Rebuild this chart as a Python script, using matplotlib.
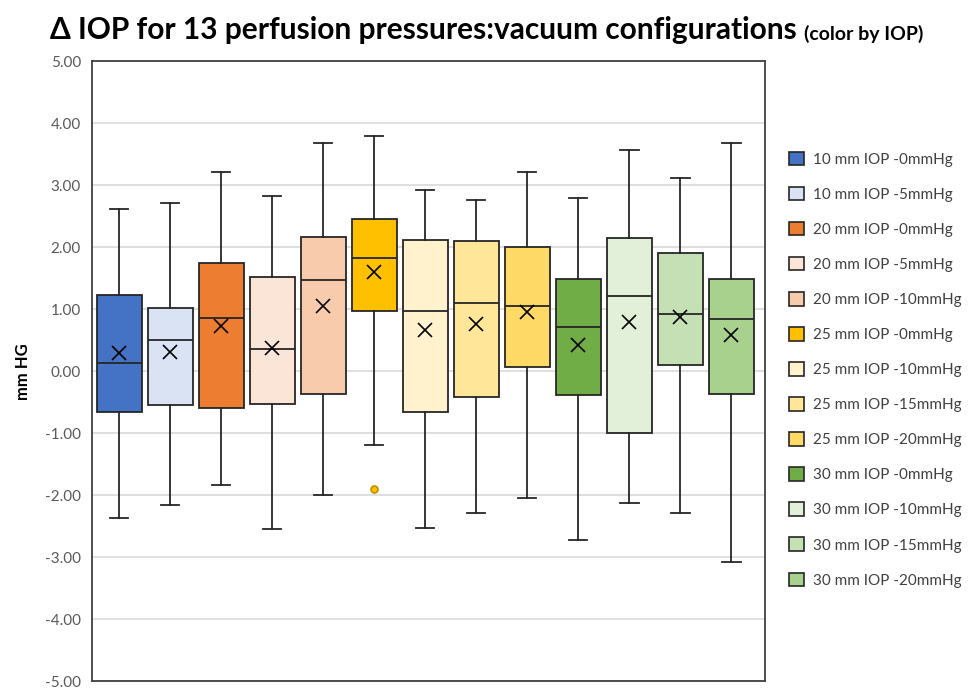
import matplotlib
matplotlib.use("Agg")
import matplotlib.pyplot as plt
from matplotlib.patches import Patch

# box statistics (mm HG)
labels = ["10 mm IOP -0mmHg", "10 mm IOP -5mmHg", "20 mm IOP -0mmHg", "20 mm IOP -5mmHg",
          "20 mm IOP -10mmHg", "25 mm IOP -0mmHg", "25 mm IOP -10mmHg", "25 mm IOP -15mmHg",
          "25 mm IOP -20mmHg", "30 mm IOP -0mmHg", "30 mm IOP -10mmHg", "30 mm IOP -15mmHg",
          "30 mm IOP -20mmHg"]
whis_hi = [2.62, 2.71, 3.22, 2.83, 3.69, 3.80, 2.92, 2.76, 3.21, 2.80, 3.57, 3.12, 3.69]
q3 = [1.23, 1.03, 1.75, 1.52, 2.17, 2.46, 2.12, 2.10, 2.01, 1.49, 2.15, 1.91, 1.49]
med = [0.14, 0.51, 0.86, 0.36, 1.48, 1.83, 0.97, 1.11, 1.06, 0.71, 1.22, 0.92, 0.85]
q1 = [-0.65, -0.55, -0.59, -0.52, -0.37, 0.97, -0.66, -0.41, 0.07, -0.38, -0.99, 0.11, -0.37]
whis_lo = [-2.37, -2.15, -1.83, -2.55, -1.99, -1.19, -2.52, -2.28, -2.05, -2.72, -2.12, -2.29, -3.07]
means = [0.29, 0.31, 0.73, 0.37, 1.05, 1.60, 0.67, 0.76, 0.95, 0.43, 0.79, 0.87, 0.59]
outliers = [[], [], [], [], [], [-1.89], [], [], [], [], [], [], []]
colors = ["#4472C4", "#DAE3F3", "#ED7D31", "#FBE5D6", "#F8CBAD", "#FFC000", "#FFF2CC",
          "#FFE699", "#FFD966", "#70AD47", "#E2F0D9", "#C5E0B4", "#A9D18E"]

plt.rcParams['font.family'] = ['Lato', 'DejaVu Sans']

fig = plt.figure(figsize=(9.69, 6.89), dpi=100)
ax = fig.add_axes([0.095, 0.011, 0.694, 0.900])

stats = []
for i in range(len(labels)):
    stats.append(dict(label=labels[i], whishi=whis_hi[i], q3=q3[i], med=med[i], q1=q1[i],
                      whislo=whis_lo[i], mean=means[i], fliers=outliers[i]))

bp = ax.bxp(stats, widths=0.88, patch_artist=True, showmeans=True, capwidths=0.36,
            boxprops=dict(edgecolor="#262626", linewidth=1.3),
            medianprops=dict(color="#262626", linewidth=1.3),
            whiskerprops=dict(color="#262626", linewidth=1.3),
            capprops=dict(color="#262626", linewidth=1.3),
            meanprops=dict(marker="x", markeredgecolor="black", markersize=10, markeredgewidth=1.2),
            flierprops=dict(marker="o", markersize=5, markeredgecolor="#BF9000", markeredgewidth=1.2),
            zorder=3)
for patch, c in zip(bp["boxes"], colors):
    patch.set_facecolor(c)
for fl, c in zip(bp["fliers"], colors):
    fl.set_markerfacecolor(c)

ax.set_ylim(-5, 5)
ax.set_xlim(0.47, 13.65)
ax.set_yticks(range(-5, 6))
ax.set_yticklabels([f"{v:.2f}" for v in range(-5, 6)], fontsize=11, color="#595959")
ax.set_xticks([])
ax.tick_params(axis="y", length=0, pad=8)
ax.grid(axis="y", color="#D9D9D9", linewidth=1.2, zorder=0)
ax.set_axisbelow(True)
for s in ax.spines.values():
    s.set_color("#404040")
    s.set_linewidth(1.3)
ax.set_ylabel("mm HG", fontsize=12, fontweight="bold", labelpad=10)

handles = [Patch(facecolor=c, edgecolor="#262626", linewidth=1.2) for c in colors]
fig.legend(handles, labels, loc="upper left", bbox_to_anchor=(0.800, 0.80), frameon=False,
           fontsize=11, handlelength=1.0, handleheight=1.0, handletextpad=0.6,
           labelspacing=1.31, labelcolor="#404040")

t = fig.text(0.052, 0.956, "Δ IOP for 13 perfusion pressures:vacuum configurations",
             fontsize=21.5, fontweight="bold", va="center", ha="left")
fig.canvas.draw()
bb = t.get_window_extent().transformed(fig.transFigure.inverted())
fig.text(bb.x1 + 0.007, 0.951, "(color by IOP)", fontsize=14, fontweight="bold",
         va="center", ha="left")

fig.savefig("out.png", dpi=100)
